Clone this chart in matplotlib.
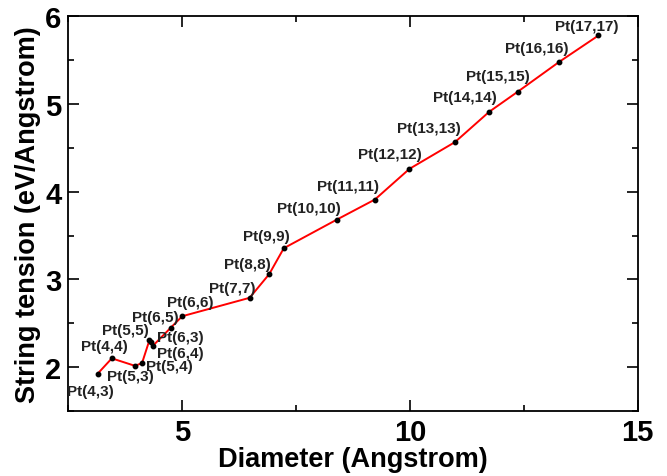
import matplotlib
matplotlib.use("Agg")
import matplotlib.pyplot as plt
from matplotlib.ticker import MultipleLocator

plt.rcParams['font.family'] = ['Liberation Sans', 'DejaVu Sans']
plt.rcParams['font.weight'] = 'bold'

# data
labels = ["Pt(4,3)", "Pt(4,4)", "Pt(5,3)", "Pt(5,4)", "Pt(5,5)", "Pt(6,3)", "Pt(6,4)",
          "Pt(6,5)", "Pt(6,6)", "Pt(7,7)", "Pt(8,8)", "Pt(9,9)", "Pt(10,10)",
          "Pt(11,11)", "Pt(12,12)", "Pt(13,13)", "Pt(14,14)", "Pt(15,15)",
          "Pt(16,16)", "Pt(17,17)"]
diameter = [3.145, 3.454, 3.96, 4.117, 4.28, 4.31, 4.35, 4.75, 5.0, 6.48, 6.91, 7.23,
            8.39, 9.23, 9.99, 10.99, 11.74, 12.37, 13.28, 14.14]
tension = [1.926, 2.10, 2.015, 2.045, 2.307, 2.284, 2.24, 2.45, 2.58, 2.79, 3.06, 3.355,
           3.68, 3.91, 4.26, 4.565, 4.91, 5.14, 5.48, 5.78]

# label offsets in pixels (dx, dy up)
offsets = [(-7, -17), (-7, 12), (-4, -10), (27, -3), (-24, 10), (30, 5), (28, -7),
           (-16, 11), (8, 14), (-17, 10), (-22, 10), (-17, 12), (-28, 12), (-27, 14),
           (-20, 15), (-26, 14), (-24, 15), (-20, 16), (-23, 14), (-12, 9)]

fig = plt.figure(figsize=(6.67, 4.77), dpi=100)
ax = fig.add_axes([0.1025, 0.1363, 0.8535, 0.8277])

ax.plot(diameter, tension, color='red', lw=1.4, zorder=2)
ax.plot(diameter, tension, 'o', color='black', ms=3.2, zorder=3)

for lab, x, y, off in zip(labels, diameter, tension, offsets):
    ax.annotate(lab, (x, y), xytext=off, textcoords='offset pixels',
                ha='center', va='center', fontsize=11, fontweight='bold',
                color='#222222')

ax.set_xlim(2.5, 15)
ax.set_ylim(1.5, 6)
ax.xaxis.set_major_locator(MultipleLocator(5))
ax.xaxis.set_minor_locator(MultipleLocator(2.5))
ax.yaxis.set_major_locator(MultipleLocator(1))
ax.yaxis.set_minor_locator(MultipleLocator(0.5))
ax.tick_params(which='both', direction='in', top=True, right=True, width=1.2)
ax.tick_params(which='major', length=8, labelsize=21, pad=5)
ax.tick_params(which='minor', length=4.5)
for s in ax.spines.values():
    s.set_linewidth(1.3)

ax.set_xlabel("Diameter (Angstrom)", fontsize=19.5, fontweight='bold', labelpad=0)
ax.set_ylabel("String tension (eV/Angstrom)", fontsize=19.5, fontweight='bold', labelpad=3)

fig.savefig("out.png", dpi=100)
